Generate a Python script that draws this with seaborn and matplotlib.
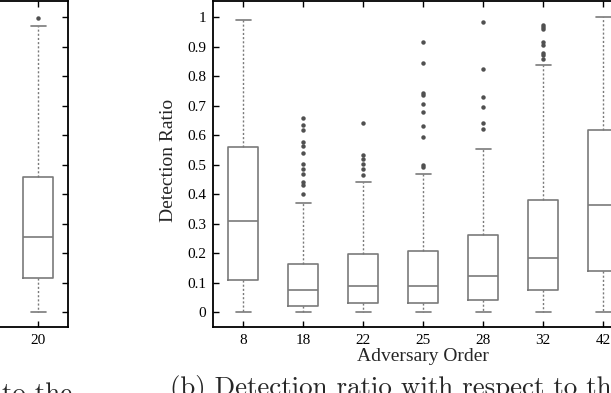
import numpy as np
import pandas as pd
import matplotlib
matplotlib.use('Agg')
import matplotlib.pyplot as plt
import seaborn as sns

# five-number summaries (min, q1, median, q3, max whisker)
orders = ['8', '18', '22', '25', '28', '32', '42']
box_8 = [0.0, 0.11, 0.31, 0.56, 0.99]
box_18 = [0.0, 0.022, 0.075, 0.165, 0.37]
box_22 = [0.0, 0.03, 0.088, 0.197, 0.442]
box_25 = [0.0, 0.03, 0.089, 0.208, 0.47]
box_28 = [0.0, 0.04, 0.123, 0.263, 0.553]
box_32 = [0.0, 0.077, 0.185, 0.38, 0.837]
box_42 = [0.0, 0.14, 0.363, 0.617, 1.0]

# outliers
out_18 = [0.402, 0.431, 0.442, 0.47, 0.487, 0.504, 0.54, 0.563, 0.577, 0.619, 0.636, 0.657]
out_22 = [0.464, 0.484, 0.504, 0.52, 0.532, 0.64]
out_25 = [0.493, 0.5, 0.594, 0.631, 0.679, 0.707, 0.736, 0.743, 0.845, 0.915]
out_28 = [0.62, 0.642, 0.696, 0.728, 0.826, 0.983]
out_32 = [0.86, 0.871, 0.879, 0.905, 0.916, 0.96, 0.967, 0.973]

# last box of the left panel (a), mostly cropped away
left_orders = ['20']
box_20 = [0.0, 0.115, 0.255, 0.46, 0.97]
out_20 = [0.997]

yticks = [0, 0.1, 0.2, 0.3, 0.4, 0.5, 0.6, 0.7, 0.8, 0.9, 1]

boxes = [box_8, box_18, box_22, box_25, box_28, box_32, box_42]
outs = [[], out_18, out_22, out_25, out_28, out_32, []]
df_box = pd.DataFrame({'order': np.repeat(orders, 5), 'ratio': np.concatenate(boxes)})
df_out = pd.DataFrame({'order': np.repeat(orders, [len(o) for o in outs]),
                       'ratio': np.concatenate([o for o in outs if len(o)])})
df_box_l = pd.DataFrame({'order': ['20'] * 5, 'ratio': box_20})
df_out_l = pd.DataFrame({'order': ['20'] * len(out_20), 'ratio': out_20})

sns.set_style('white')
plt.rcParams['font.family'] = ['Liberation Serif', 'DejaVu Serif']

fig = plt.figure(figsize=(6.11, 3.93), dpi=100)
W, H = 611.0, 393.0
ax = fig.add_axes([213 / W, 1 - 327 / H, 420 / W, 326 / H])
axl = fig.add_axes([-232 / W, 1 - 327 / H, 300 / W, 326 / H])

boxcol = '#7a7a7a'
dotcol = '#505050'


def draw(a, dfb, dfo, order):
    sns.boxplot(data=dfb, x='order', y='ratio', order=order, whis=(0, 100),
                fill=False, color=boxcol, linecolor=boxcol, width=0.5,
                linewidth=1.2, showfliers=False,
                whiskerprops=dict(linestyle=(0, (1.5, 1.5)), linewidth=1.0),
                ax=a)
    sns.stripplot(data=dfo, x='order', y='ratio', order=order, jitter=False,
                  color=dotcol, size=3.2, linewidth=0, ax=a)
    a.set_ylim(-0.05, 1.055)
    a.set_yticks(yticks)
    a.set_yticklabels(['%g' % v for v in yticks])
    a.tick_params(direction='in', length=4, width=1, top=True, right=True,
                  bottom=True, left=True, labelsize=11, pad=5, colors='black')
    for s in a.spines.values():
        s.set_color('black')
        s.set_linewidth(1.3)


draw(ax, df_box, df_out, orders)
ax.set_xlim(-0.5, 6.5)
ax.set_xlabel('Adversary Order', fontsize=14, labelpad=1)
ax.set_ylabel('Detection Ratio', fontsize=14)
ax.yaxis.set_label_coords(-0.086, 0.51)

draw(axl, df_box_l, df_out_l, left_orders)
axl.set_xlim(-4.5, 0.5)
axl.set_xlabel('')
axl.set_ylabel('')
axl.tick_params(labelleft=False)

# captions are cut by the edges of the reference screenshot
fig.text(170 / W, 1 - 395 / H, '(b) Detection ratio with respect to the',
         family='cmr10', fontsize=19.4, va='baseline', ha='left')
fig.text(2 / W, 1 - 401 / H, 'to the', family='cmr10', fontsize=19.4,
         va='baseline', ha='left')

fig.savefig('out.png', dpi=100)
